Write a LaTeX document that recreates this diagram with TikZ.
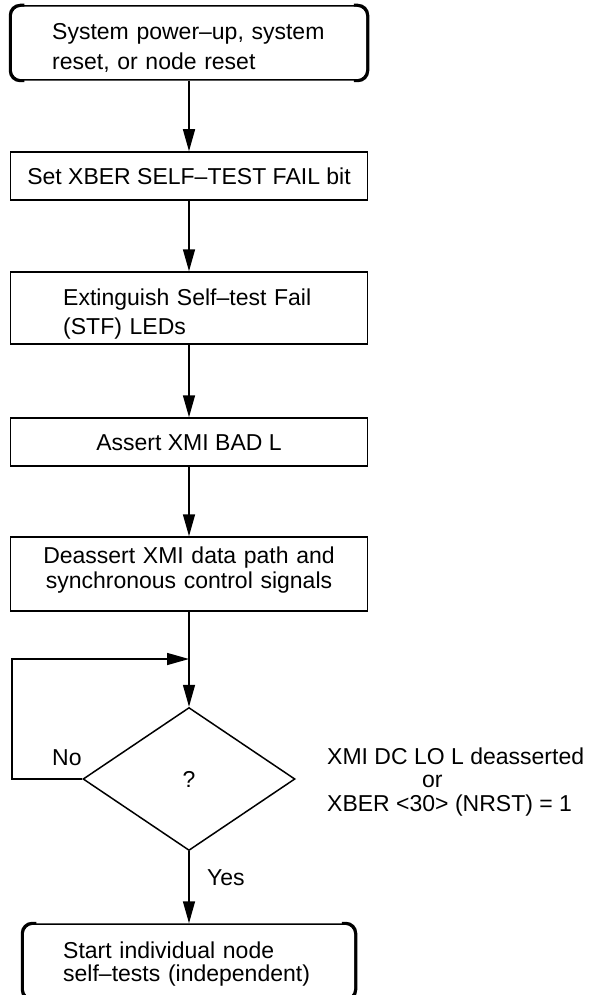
\documentclass[tikz,border=0pt]{standalone}
\usepackage{fontspec}
\setmainfont{Liberation Sans}
\usetikzlibrary{shapes.geometric,arrows.meta}
\begin{document}
\begin{tikzpicture}[x=1pt,y=-1pt,
  every node/.style={font=\fontsize{23}{30}\selectfont},
  box/.style={draw,line width=1.5pt,inner sep=0pt,minimum width=357pt},
  rbox/.style={draw,line width=1.5pt,rounded corners=10pt,inner sep=0pt},
  txt/.style={inner sep=0pt,anchor=base west,align=left,text width=295pt},
  ctxt/.style={inner sep=0pt,anchor=base},
  lbl/.style={inner sep=0pt,anchor=base west},
  flow/.style={line width=1.5pt,-{Triangle[length=22pt,width=12pt]}},
  side/.style={line width=3pt,rounded corners=10pt}
]
\useasboundingbox (0,0) rectangle (590,995);

% boxes
\node[rbox,minimum width=356pt,minimum height=74pt] (b1) at (189,43) {};
\node[box,minimum height=48pt] (b2) at (189,176) {};
\node[box,minimum height=72pt] (b3) at (189,308) {};
\node[box,minimum height=48pt] (b4) at (189,442) {};
\node[box,minimum height=74pt] (b5) at (189,574) {};
\node[draw,diamond,line width=1.5pt,minimum width=212pt,minimum height=143pt,inner sep=0pt] (d) at (189,779) {?};
\node[rbox,minimum width=332pt,minimum height=75pt] (b6) at (189,961.5) {};

% thick rounded sides of the terminal boxes
\draw[side] ([xshift=14pt]b1.north west) -- (b1.north west) -- (b1.south west) -- ([xshift=14pt]b1.south west);
\draw[side] ([xshift=-14pt]b1.north east) -- (b1.north east) -- (b1.south east) -- ([xshift=-14pt]b1.south east);
\draw[side] ([xshift=14pt]b6.north west) -- (b6.north west) -- (b6.south west) -- ([xshift=14pt]b6.south west);
\draw[side] ([xshift=-14pt]b6.north east) -- (b6.north east) -- (b6.south east) -- ([xshift=-14pt]b6.south east);

% texts
\node[txt] (t1) at (52,40) {System power–up, system\\reset, or node reset};
\node[ctxt] (t2) at (189,184.5) {Set XBER SELF–TEST FAIL bit};
\node[txt,font=\fontsize{23}{29}\selectfont] (t3) at (63,305) {Extinguish Self–test Fail\\(STF) LEDs};
\node[ctxt] (t4) at (189,450) {Assert XMI BAD L};
\node[ctxt,align=center,text width=340pt,font=\fontsize{23}{25}\selectfont] (t5) at (189,563) {Deassert XMI data path and\\synchronous control signals};
\node[txt,font=\fontsize{23}{23}\selectfont] (t6) at (63,958) {Start individual node\\self–tests (independent)};

\node[lbl] (no) at (52,765) {No};
\node[lbl] (yes) at (207,885) {Yes};
\node[lbl] (c1) at (327,764) {XMI DC LO L deasserted};
\node[lbl] (c2) at (422,787.5) {or};
\node[lbl] (c3) at (327,811) {XBER <30> (NRST) = 1};

% connectors
\coordinate (j) at (189,659);
\coordinate (lc) at (12,659);
\draw[flow] (b1.south) -- (b2.north);
\draw[flow] (b2.south) -- (b3.north);
\draw[flow] (b3.south) -- (b4.north);
\draw[flow] (b4.south) -- (b5.north);
\draw[flow] (b5.south) -- (d.north);
\draw[flow] (d.west) -| (lc) -- (j);
\draw[flow] (d.south) -- (b6.north);
\end{tikzpicture}
\end{document}
